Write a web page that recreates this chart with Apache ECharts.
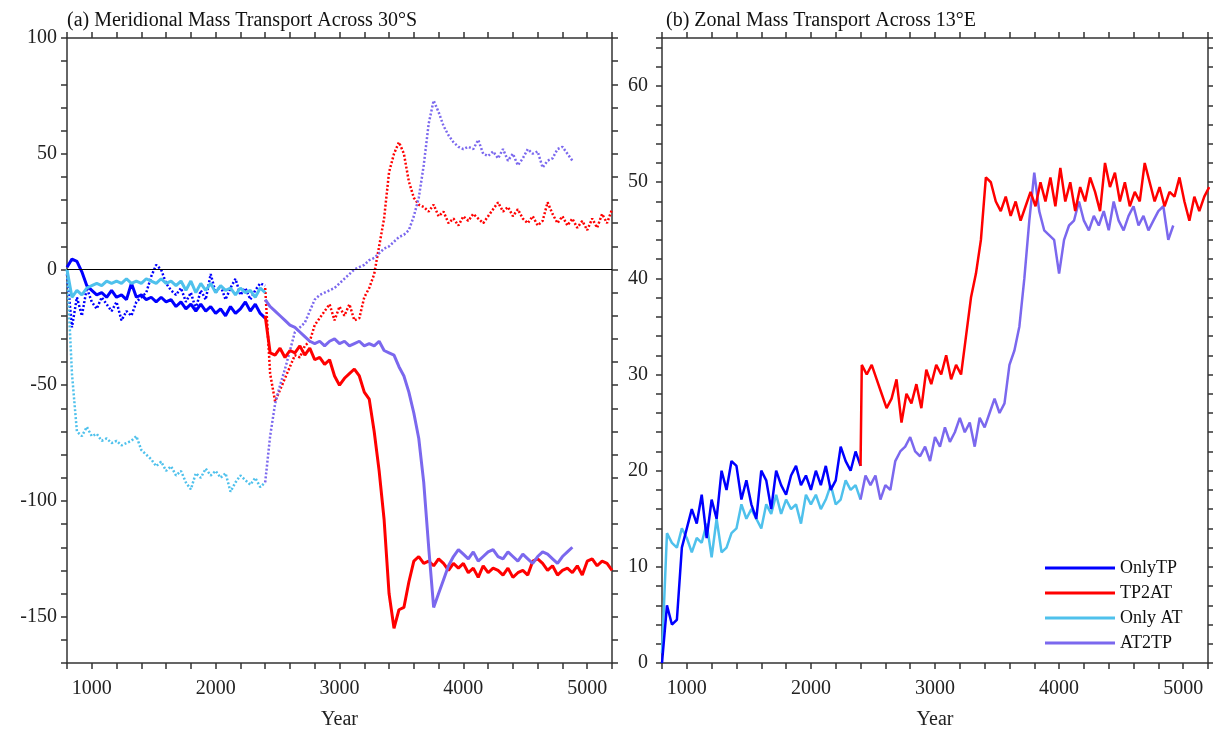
<!DOCTYPE html>
<html>
<head>
<meta charset="utf-8">
<script src="https://cdn.jsdelivr.net/npm/echarts@6/dist/echarts.min.js"></script>
<style>
html,body{margin:0;padding:0;background:#fff;}
#main{width:1213px;height:735px;}
</style>
</head>
<body>
<div id="main"></div>
<script>
// years: sampled every 40 yr
var STEP = 40;
function yearsFrom(start, n){
	var a = [];
	for(var i=0;i<n;i++){ a.push(start + i*STEP); }
	return a;
}

// ---- (a) meridional transport across 30S ----
var onlyTP_a = [1,4.5,3.5,-1,-7,-9,-11,-10,-12,-9,-12,-11,-13,-6,-12,-11,-13,-12,-14,-12,-14,-13,-16,-14,-17,-15,-18,-15,-18,-16,-19,-17,-20,-16,-19,-17,-14,-18,-15,-19,-21];
var onlyTP_a_dot = [-2,-25,-12,-20,-8,-14,-17,-12,-15,-18,-14,-22,-18,-20,-14,-12,-10,-3,2,0,-6,-9,-11,-8,-14,-10,-17,-9,-13,-2,-10,-7,-13,-8,-4,-11,-8,-13,-9,-6,-7];
var onlyAT_a = [0,-12,-9,-11,-8,-7,-6,-7,-5,-6,-5,-6,-4,-6,-5,-6,-4,-5,-6,-4,-6,-5,-7,-5,-9,-5,-10,-6,-9,-6,-10,-7,-9,-8,-11,-8,-10,-9,-12,-8,-10];
var onlyAT_a_dot = [0,-45,-70,-72,-68,-72,-71,-74,-73,-75,-74,-76,-75,-74,-72,-78,-80,-82,-85,-83,-87,-85,-89,-87,-92,-95,-88,-90,-86,-89,-87,-90,-88,-96,-92,-89,-91,-93,-90,-94,-92];
var tp2at_a = [-20,-36,-37,-34,-38,-35,-36,-33,-37,-34,-39,-38,-41,-39,-46,-50,-47,-45,-43,-46,-53,-56,-70,-87,-108,-140,-155,-147,-146,-135,-126,-124,-127,-126,-128,-125,-127,-130,-127,-129,-127,-131,-129,-133,-128,-131,-129,-130,-132,-129,-133,-131,-130,-132,-126,-125,-127,-130,-128,-132,-130,-129,-131,-128,-132,-126,-125,-128,-126,-127,-130];
var tp2at_a_dot = [-8,-45,-57,-52,-47,-42,-37,-38,-33,-31,-24,-21,-18,-15,-22,-16,-20,-15,-22,-21,-12,-8,-2,10,22,42,50,55,50,38,31,28,27,25,28,23,25,20,22,19,23,21,24,22,20,23,26,29,25,27,23,26,22,20,23,19,21,29,24,20,23,19,22,18,21,17,22,18,24,20,26];
var at2tp_a = [-13,-16,-18,-20,-22,-24,-25,-27,-29,-31,-32,-31,-33,-31,-30,-32,-31,-33,-32,-31,-33,-32,-33,-31,-35,-36,-37,-42,-46,-53,-62,-73,-92,-120,-146,-140,-134,-128,-124,-121,-123,-125,-122,-126,-124,-122,-121,-124,-125,-122,-124,-126,-123,-125,-127,-124,-122,-123,-125,-127,-124,-122,-120];
var at2tp_a_dot = [-92,-72,-58,-50,-43,-35,-27,-25,-23,-18,-13,-11,-10,-9,-8,-6,-4,-2,0,1,2,4,5,7,9,10,12,14,15,17,23,31,45,63,73,68,62,58,55,53,52,53,52,56,50,49,51,48,52,47,50,45,48,52,50,51,44,47,48,52,53,50,47];

// ---- (b) zonal transport across 13E ----
var onlyTP_b = [0,6,4,4.5,12,14,16,14.5,17.5,13,17,15,20,18,21,20.5,17,19,16.5,15,20,19,16,20,18.5,17.5,19.5,20.5,18.5,19.5,18,20,18.5,20.5,18,19,22.5,21,20,22,20.5];
var onlyAT_b = [1,13.5,12.5,12,14,13,11.5,13,12.5,14.5,11,15,11.5,12,13.5,14,16.5,15,16,15,14,16.5,15.5,17.5,15.5,17,16,16.5,14.5,17.5,16.5,17.5,16,17,18.5,16.5,17,19,18,18.5,17];
// TP2AT starts from the OnlyTP end at 2400 and jumps up right after
var tp2at_b_start = 20.5;
var tp2at_b = [31,30,31,29.5,28,26.5,27.5,29.5,25,28,27,29,26.5,30.5,29,31,30,32,29.5,31,30,34,38,40.5,44,50.5,50,48,47,48.5,46.5,48,46,47.5,49,47.5,50,48,50.5,47.5,51.5,48,50,47,49.5,48,50.5,49,47,52,49.5,51,48,50,47.5,49,48,52,50,48,49.5,47.5,49,48.5,50.5,48,46,48.5,47,48.5,49.5];
var at2tp_b = [17,19.5,18.5,19.5,17,18.5,18,21,22,22.5,23.5,22,21.5,22.5,21,23.5,22.5,24.5,23,24,25.5,24,25,22.5,25.5,24.5,26,27.5,26,27,31,32.5,35,40,46,51,47,45,44.5,44,40.5,44,45.5,46,48,46,45,46.5,45.5,47,45,48,46,45,46.5,47.5,45.5,46.5,45,46,47,47.5,44,45.5];

var names = ['OnlyTP','TP2AT','Only AT','AT2TP'];
var colors = ['#0000ff','#ff0000','#4fc1ec','#7b68ee'];

function pairs(start, vals){
	var yrs = yearsFrom(start, vals.length);
	var out = [];
	for(var i=0;i<vals.length;i++){ out.push([yrs[i], vals[i]]); }
	return out;
}

var FONT = 'Liberation Serif';
var axisLineStyle = {color:'#333', width:1.5};

function xAx(grid, pos){
	return {
		type:'value', gridIndex:grid, position:pos, min:800, max:5200, interval:200,
		name: pos=='bottom' ? 'Year' : '', nameLocation:'middle', nameGap:47,
		nameTextStyle:{fontFamily:FONT, fontSize:20, color:'#222'},
		axisLine:{show:true, onZero:false, lineStyle:axisLineStyle},
		axisTick:{show:true, length:6, lineStyle:axisLineStyle},
		axisLabel:{show: pos=='bottom', fontFamily:FONT, fontSize:20, color:'#222', margin:16,
			formatter:function(v){ return v%1000===0 ? v : ''; }},
		splitLine:{show:false}
	};
}
function yAx(grid, pos, mn, mx, itv, lab, mrg){
	return {
		type:'value', gridIndex:grid, position:pos, min:mn, max:mx, interval:itv,
		axisLine:{show:true, onZero:false, lineStyle:axisLineStyle},
		axisTick:{show:true, length:6, lineStyle:axisLineStyle},
		axisLabel:{show: pos=='left', fontFamily:FONT, fontSize:20, color:'#222', margin:mrg,
			formatter:function(v){ return v%lab===0 ? v : ''; }},
		splitLine:{show:false}
	};
}

function line(name, data, color, dotted, xi, yi, w){
	return {
		name:name, type:'line', xAxisIndex:xi, yAxisIndex:yi, data:data,
		showSymbol:false, symbol:'none', animation:false,
		lineStyle:{color:color, width:w, type: dotted ? [2,2] : 'solid'},
		itemStyle:{color:color}
	};
}

var series = [];
// left panel, dotted first
series.push(line('a1d', pairs(800, onlyTP_a_dot), colors[0], true, 0, 0, 2.5));
series.push(line('a3d', pairs(800, onlyAT_a_dot), colors[2], true, 0, 0, 2.5));
series.push(line('a2d', pairs(2400, tp2at_a_dot), colors[1], true, 0, 0, 2.5));
series.push(line('a4d', pairs(2400, at2tp_a_dot), colors[3], true, 0, 0, 2.5));
series.push(line('a1', pairs(800, onlyTP_a), colors[0], false, 0, 0, 3));
series.push(line('a3', pairs(800, onlyAT_a), colors[2], false, 0, 0, 3));
series.push(line('a2', pairs(2400, tp2at_a), colors[1], false, 0, 0, 3));
series.push(line('a4', pairs(2400, at2tp_a), colors[3], false, 0, 0, 3));
// zero line
series[0].markLine = {silent:true, symbol:'none', animation:false,
	label:{show:false}, lineStyle:{color:'#000', width:1.2, type:'solid'},
	data:[{yAxis:0}]};
// right panel
var tp2atB = [[2400, tp2at_b_start]].concat(pairs(2410, tp2at_b));
series.push(line(names[2], pairs(800, onlyAT_b), colors[2], false, 2, 2, 2.5));
series.push(line(names[0], pairs(800, onlyTP_b), colors[0], false, 2, 2, 2.5));
series.push(line(names[3], pairs(2400, at2tp_b), colors[3], false, 2, 2, 2.5));
series.push(line(names[1], tp2atB, colors[1], false, 2, 2, 2.5));

var chart = echarts.init(document.getElementById('main'));
chart.setOption({
	backgroundColor:'#fff',
	animation:false,
	title:[
		{text:'(a) Meridional Mass Transport Across 30°S', left:62, top:6,
			textStyle:{fontFamily:FONT, fontSize:20, fontWeight:'normal', color:'#111'}},
		{text:'(b) Zonal Mass Transport Across 13°E', left:661, top:6,
			textStyle:{fontFamily:FONT, fontSize:20, fontWeight:'normal', color:'#111'}}
	],
	grid:[
		{left:67, top:38, width:545, height:629},
		{left:662, top:38, width:546, height:629}
	],
	xAxis:[xAx(0,'bottom'), xAx(0,'top'), xAx(1,'bottom'), xAx(1,'top')],
	yAxis:[yAx(0,'left',-170,100,10,50,10), yAx(0,'right',-170,100,10,50,10),
		yAx(1,'left',0,65,2,10,14), yAx(1,'right',0,65,2,10,14)],
	legend:{
		data:names, orient:'vertical', left:1040, top:554,
		icon:'rect', itemWidth:70, itemHeight:3, itemGap:7,
		textStyle:{fontFamily:FONT, fontSize:18, color:'#111'}
	},
	series:series
});
</script>
</body>
</html>
